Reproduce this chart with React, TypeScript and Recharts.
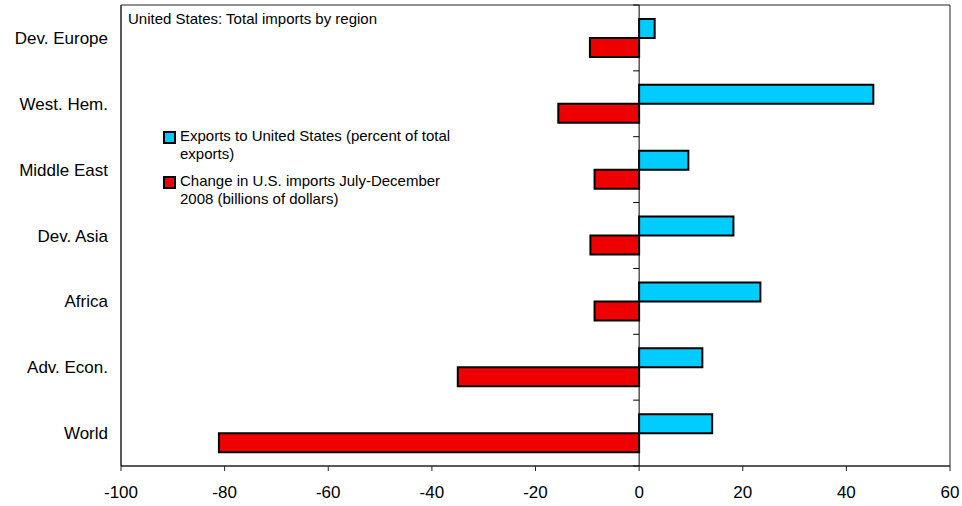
import React from "react";
import {
  BarChart,
  Bar,
  XAxis,
  YAxis,
  ReferenceLine,
  ReferenceArea,
  Legend,
} from "recharts";

const regions = [
  "Dev. Europe",
  "West. Hem.",
  "Middle East",
  "Dev. Asia",
  "Africa",
  "Adv. Econ.",
  "World",
];
const exportsShare = [3, 45.2, 9.5, 18.2, 23.4, 12.2, 14.1];
const importChange = [-9.5, -15.6, -8.6, -9.4, -8.6, -35, -81.1];
const xTicks = [-100, -80, -60, -40, -20, 0, 20, 40, 60];
const seriesOrder = ["exports", "change"];

const FONT = '"Liberation Sans", Arial, Helvetica, sans-serif';

const data = regions.map((region, i) => ({
  region,
  exports: exportsShare[i],
  change: importChange[i],
}));

// zero line with small ticks at the category boundaries (Excel style)
function ZeroAxis(props: any) {
  const { x1, y1, x2, y2 } = props;
  const n = regions.length;
  const marks = [];
  for (let i = 0; i <= n; i++) {
    const y = y1 + ((y2 - y1) * i) / n;
    marks.push(<line key={i} x1={x1 - 6} x2={x1} y1={y} y2={y} stroke="#000" strokeWidth={1} />);
  }
  return (
    <g>
      <line x1={x1} y1={y1} x2={x2} y2={y2} stroke="#000" strokeWidth={1} />
      {marks}
    </g>
  );
}

function LegendBox({ payload }: any) {
  const items = [...(payload || [])].sort(
    (a: any, b: any) => seriesOrder.indexOf(a.dataKey) - seriesOrder.indexOf(b.dataKey)
  );
  return (
    <div style={{ fontFamily: FONT, fontSize: 15, lineHeight: "18px", color: "#000", textAlign: "left" }}>
      {items.map((entry: any) => (
        <div key={entry.value} style={{ display: "flex", marginBottom: 9 }}>
          <span
            style={{
              display: "inline-block",
              width: 9,
              height: 9,
              marginTop: 4,
              marginRight: 4,
              background: entry.color,
              border: "2px solid #000",
              flex: "none",
            }}
          />
          <span>{entry.value}</span>
        </div>
      ))}
    </div>
  );
}

export default function App() {
  return (
    <div style={{ position: "fixed", left: 0, top: 0, width: 962, height: 506, background: "#fff" }}>
      <BarChart
        width={962}
        height={506}
        data={data}
        layout="vertical"
        margin={{ top: 5, right: 12, bottom: 10, left: 0 }}
        barGap={0}
        barSize={19}
      >
        <ReferenceArea x1={-100} x2={60} fill="none" stroke="#222" strokeWidth={1} ifOverflow="visible" />
        <XAxis
          type="number"
          domain={[-100, 60]}
          ticks={xTicks}
          height={30}
          axisLine={{ stroke: "#222" }}
          tickLine={{ stroke: "#222" }}
          tickSize={5}
          tickMargin={15}
          tick={{ fill: "#000", fontSize: 17, fontFamily: FONT }}
          allowDataOverflow
        />
        <YAxis
          type="category"
          dataKey="region"
          width={121}
          axisLine={{ stroke: "#222" }}
          tickLine={false}
          tickSize={0}
          tickMargin={13}
          tick={{ fill: "#000", fontSize: 17, fontFamily: FONT }}
        />
        <Legend
          layout="horizontal"
          verticalAlign="middle"
          align="center"
          content={<LegendBox />}
          wrapperStyle={{ position: "absolute", left: 163, top: 127, width: 300 }}
        />
        <Bar
          dataKey="exports"
          name="Exports to United States (percent of total exports)"
          fill="#00CCFF"
          stroke="#000"
          strokeWidth={2}
          isAnimationActive={false}
        />
        <Bar
          dataKey="change"
          name="Change in U.S. imports July-December 2008 (billions of dollars)"
          fill="#EE0000"
          stroke="#000"
          strokeWidth={2}
          isAnimationActive={false}
        />
        <ReferenceLine x={0} shape={ZeroAxis} />
      </BarChart>
      <div
        style={{
          position: "absolute",
          left: 128,
          top: 10,
          fontFamily: FONT,
          fontSize: 15,
          lineHeight: "18px",
          color: "#000",
        }}
      >
        United States: Total imports by region
      </div>
    </div>
  );
}
